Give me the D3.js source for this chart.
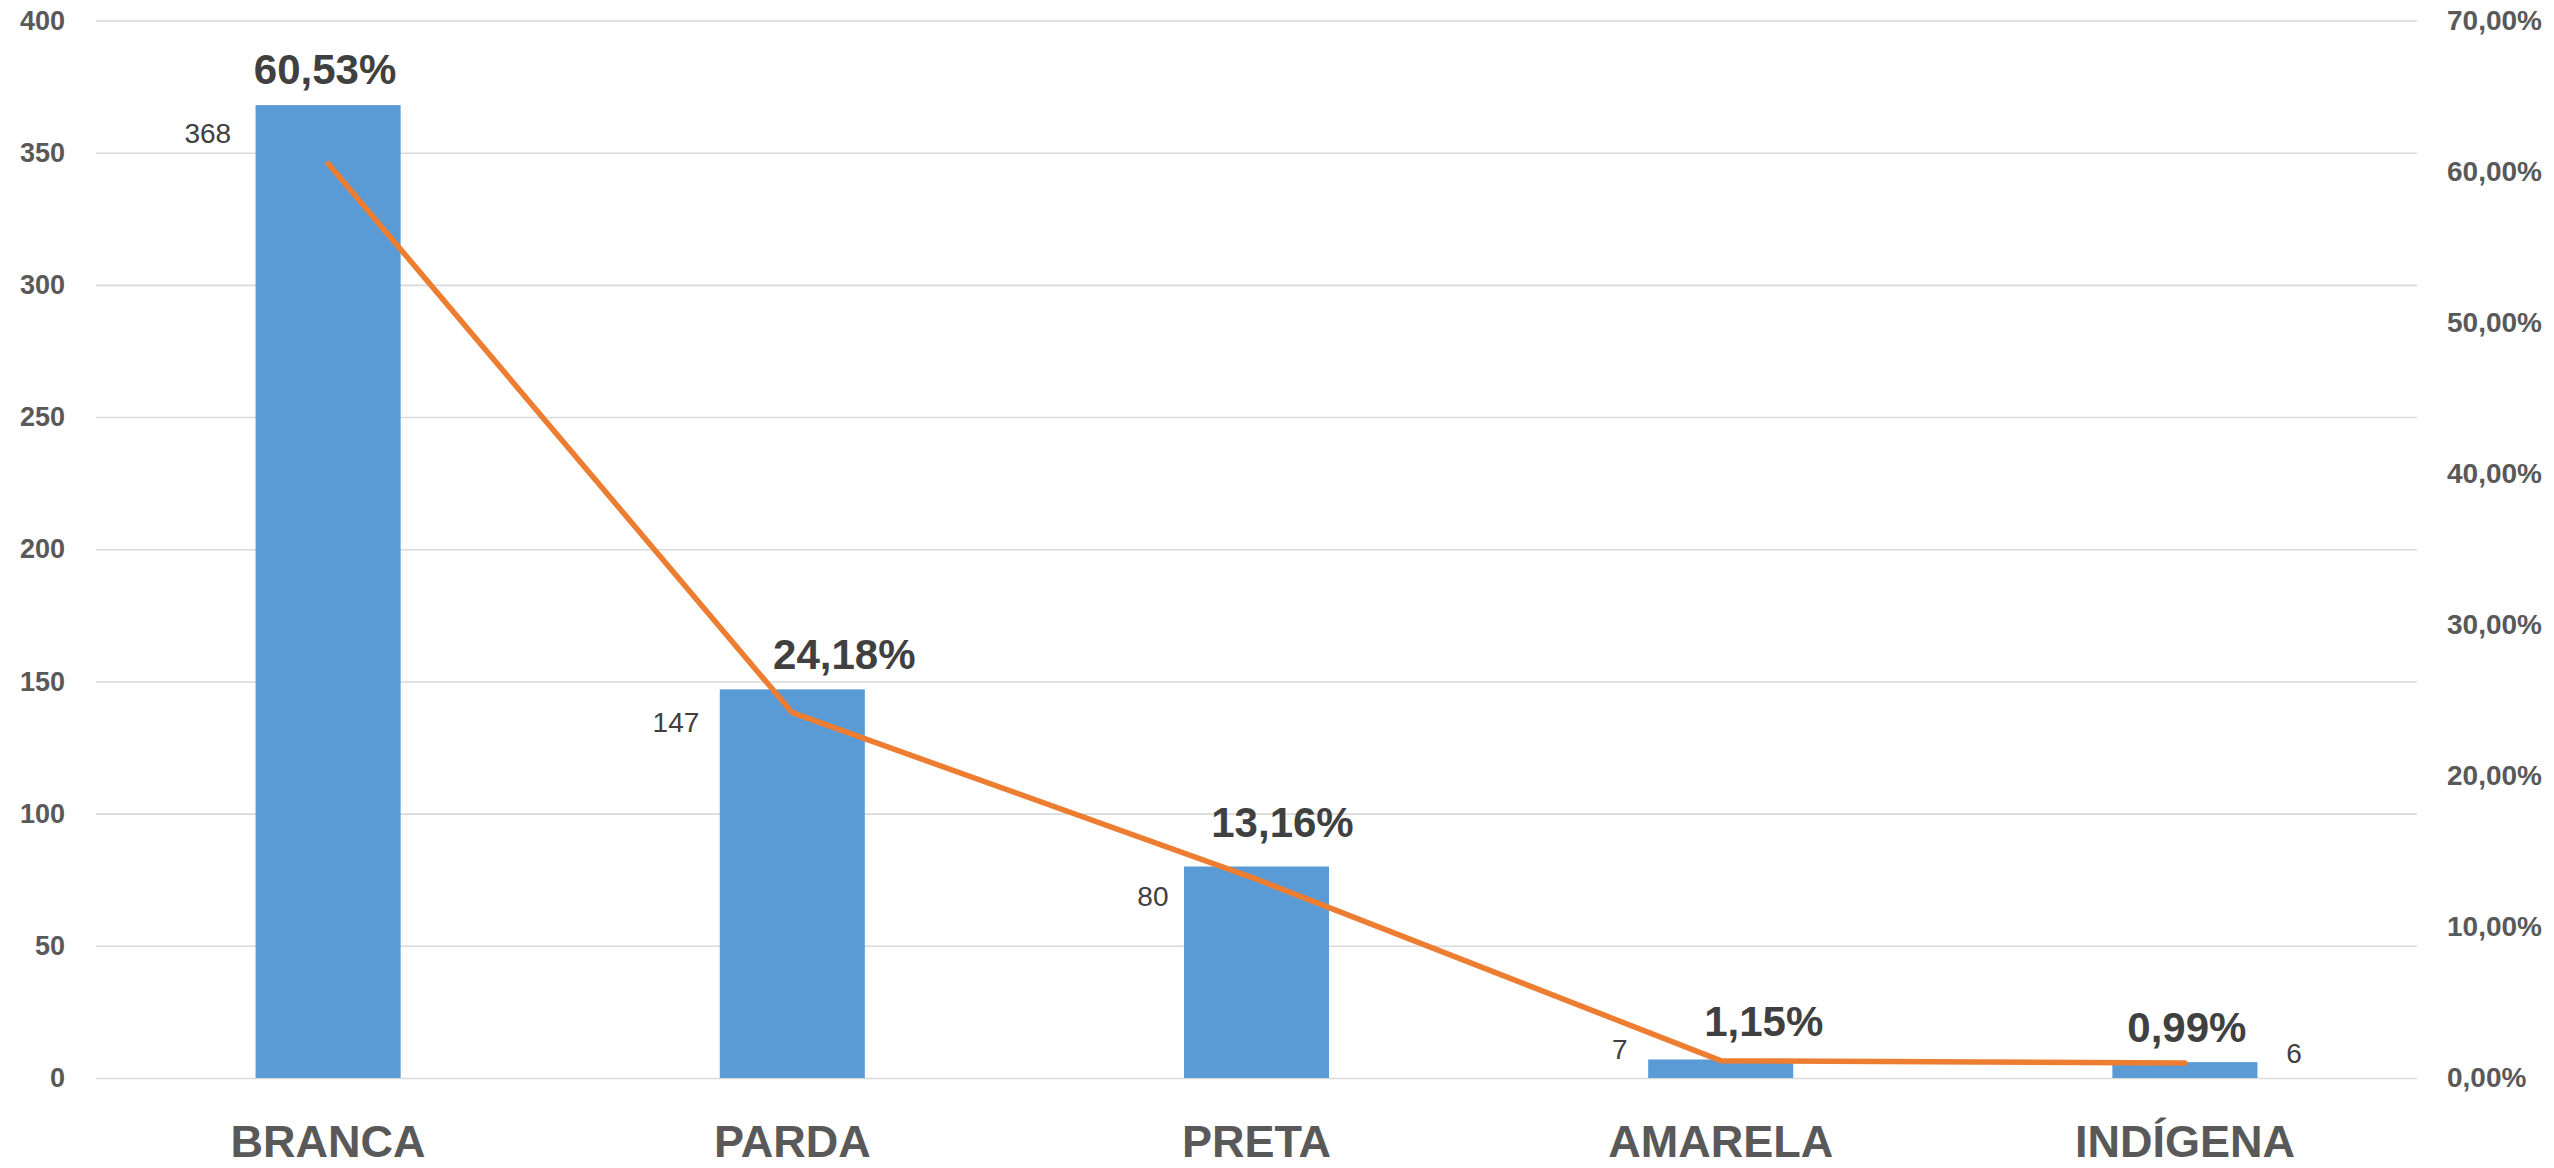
<!DOCTYPE html>
<html>
<head>
<meta charset="utf-8">
<script src="https://cdn.jsdelivr.net/npm/d3@7"></script>
<style>
body { margin: 0; background: #fff; }
text { font-family: "Liberation Sans", Arial, sans-serif; }
</style>
</head>
<body>
<div id="chart"></div>
<script>
var categorias = ["BRANCA", "PARDA", "PRETA", "AMARELA", "INDÍGENA"];
var quantidades = [368, 147, 80, 7, 6];
var percentuais = [0.6053, 0.2418, 0.1316, 0.0115, 0.0099];
var ticksEsq = [0, 50, 100, 150, 200, 250, 300, 350, 400];
var ticksDir = [0, 0.1, 0.2, 0.3, 0.4, 0.5, 0.6, 0.7];

// labels were dragged by hand in the original, so nudge them a bit
var nudgePct = [[-3, -80], [52, -44], [26, -42], [43, -25], [2, -21]];
var nudgeQtd = [[-97, 38], [-93, 43], [-88, 39], [-93, 0], [117, 1]];

var W = 2554, H = 1168;
// (window.top is read-only, so no "top" here)
var xIni = 96, xFim = 2417, yTopo = 20.5, yBase = 1078;

var locale = d3.formatLocale({decimal: ",", thousands: ".", grouping: [3], currency: ["R$", ""]});
var fmtPct = locale.format(".2%");

var svg = d3.select("#chart").append("svg")
    .attr("width", W)
    .attr("height", H);

var x = d3.scaleBand()
    .domain(categorias)
    .range([xIni, xFim])
    .padding(0);

var barW = x.bandwidth() * 0.3125;

var y = d3.scaleLinear().domain([0, 400]).range([yBase, yTopo]);
var y2 = d3.scaleLinear().domain([0, 0.7]).range([yBase, yTopo]);

// eixo esquerdo + grade
var gy = svg.append("g")
    .attr("transform", "translate(" + xIni + ",0)")
    .call(d3.axisLeft(y).tickValues(ticksEsq).tickSize(-(xFim - xIni)).tickPadding(31));
gy.select(".domain").remove();
gy.selectAll("line").attr("stroke", "#d9d9d9").attr("stroke-width", 1.6);
gy.selectAll("text")
    .attr("fill", "#595959")
    .style("font-size", "27px")
    .style("font-weight", "bold");

// eixo direito
var gy2 = svg.append("g")
    .attr("transform", "translate(" + xFim + ",0)")
    .call(d3.axisRight(y2).tickValues(ticksDir).tickSize(0).tickPadding(30).tickFormat(fmtPct));
gy2.select(".domain").remove();
gy2.selectAll("text")
    .attr("fill", "#595959")
    .style("font-size", "28px")
    .style("font-weight", "bold");

// categorias
var gx = svg.append("g")
    .attr("transform", "translate(0," + yBase + ")")
    .call(d3.axisBottom(x).tickSize(0));
gx.select(".domain").remove();
gx.selectAll("text")
    .attr("y", 79)
    .attr("dy", 0)
    .attr("fill", "#595959")
    .style("font-size", "45px")
    .style("font-weight", "bold");

// barras
svg.append("g").selectAll("rect")
    .data(quantidades)
    .enter()
    .append("rect")
    .attr("x", function(d, i) { return x(categorias[i]) + x.bandwidth() / 2 - barW / 2; })
    .attr("y", function(d) { return y(d); })
    .attr("width", barW)
    .attr("height", function(d) { return yBase - y(d); })
    .attr("fill", "#5b9bd5");

// linha
var linha = d3.line()
    .x(function(d, i) { return x(categorias[i]) + x.bandwidth() / 2; })
    .y(function(d) { return y2(d); });

svg.append("path")
    .datum(percentuais)
    .attr("d", linha)
    .attr("fill", "none")
    .attr("stroke", "#ed7d31")
    .attr("stroke-width", 5.5)
    .attr("stroke-linecap", "round")
    .attr("stroke-linejoin", "round");

// rotulos das barras
svg.append("g").selectAll("text")
    .data(quantidades)
    .enter()
    .append("text")
    .attr("x", function(d, i) { return x(categorias[i]) + x.bandwidth() / 2 + nudgeQtd[i][0]; })
    .attr("y", function(d, i) { return y(d) + nudgeQtd[i][1]; })
    .attr("text-anchor", "end")
    .attr("fill", "#404040")
    .style("font-size", "28px")
    .text(function(d) { return d; });

// rotulos da linha
svg.append("g").selectAll("text")
    .data(percentuais)
    .enter()
    .append("text")
    .attr("x", function(d, i) { return x(categorias[i]) + x.bandwidth() / 2 + nudgePct[i][0]; })
    .attr("y", function(d, i) { return y2(d) + nudgePct[i][1]; })
    .attr("text-anchor", "middle")
    .attr("fill", "#404040")
    .style("font-size", "42px")
    .style("font-weight", "bold")
    .text(function(d) { return fmtPct(d); });
</script>
</body>
</html>
